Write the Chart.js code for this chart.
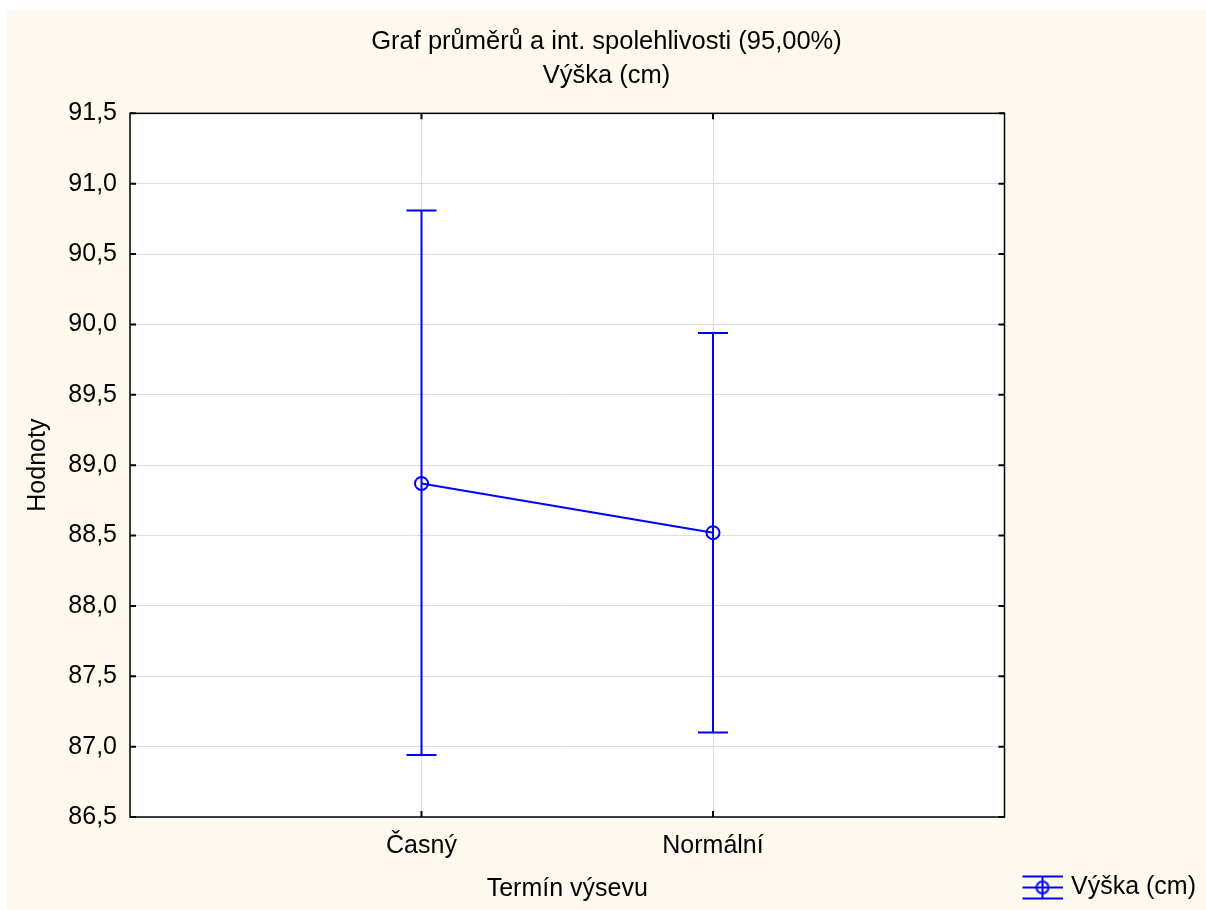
<!DOCTYPE html>
<html>
<head>
<meta charset="utf-8">
<script src="https://cdn.jsdelivr.net/npm/chart.js@4.4.1/dist/chart.umd.min.js"></script>
<style>
	html, body { margin: 0; padding: 0; background: #fff; }
	#wrap { position: absolute; left: 7px; top: 10px; width: 1199px; height: 900px; background: #fef9ee; }
</style>
</head>
<body>
<div id="wrap"><canvas id="myChart"></canvas></div>
<script>
var categories = ['Časný', 'Normální'];
var means = [88.87, 88.52];
var upper = [90.81, 89.94];
var lower = [86.94, 87.10];
var seriesLabel = 'Výška (cm)';
var titleLines = ['Graf průměrů a int. spolehlivosti (95,00%)', 'Výška (cm)'];

var blue = '#0000ff';
var fontFamily = "'Liberation Sans', Arial, sans-serif";

// legend symbol: error bar lying on its side with the mean circle
var legendImg = document.createElement('canvas');
legendImg.width = 52;
legendImg.height = 26;
(function(){
	var c = legendImg.getContext('2d');
	c.strokeStyle = blue;
	c.lineWidth = 2;
	c.beginPath();
	c.moveTo(12, 2); c.lineTo(52, 2);
	c.moveTo(12, 13); c.lineTo(52, 13);
	c.moveTo(12, 24); c.lineTo(52, 24);
	c.moveTo(32, 2); c.lineTo(32, 24);
	c.stroke();
	c.beginPath();
	c.arc(32, 13, 6, 0, Math.PI * 2);
	c.stroke();
})();

var points = categories.map(function(c, i){ return {x: i + 1, y: means[i]}; });

var plotFrame = {
	id: 'plotFrame',
	beforeDraw: function(chart){
		var a = chart.chartArea, ctx = chart.ctx;
		ctx.save();
		ctx.fillStyle = '#fff';
		ctx.fillRect(a.left, a.top, a.right - a.left, a.bottom - a.top);
		ctx.restore();
	},
	beforeDatasetsDraw: function(chart){
		var ctx = chart.ctx, xs = chart.scales.x, ys = chart.scales.y;
		ctx.save();
		ctx.strokeStyle = blue;
		ctx.lineWidth = 2;
		for (var i = 0; i < categories.length; i++) {
			var x = xs.getPixelForValue(i + 1);
			var yt = ys.getPixelForValue(upper[i]);
			var yb = ys.getPixelForValue(lower[i]);
			ctx.beginPath();
			ctx.moveTo(x, yt); ctx.lineTo(x, yb);
			ctx.moveTo(x - 15, yt); ctx.lineTo(x + 15, yt);
			ctx.moveTo(x - 15, yb); ctx.lineTo(x + 15, yb);
			ctx.stroke();
		}
		ctx.restore();
	},
	afterDatasetsDraw: function(chart){
		var a = chart.chartArea, ctx = chart.ctx, xs = chart.scales.x, ys = chart.scales.y;
		ctx.save();
		ctx.strokeStyle = '#000';
		ctx.lineWidth = 1.5;
		ctx.strokeRect(a.left, a.top, a.right - a.left, a.bottom - a.top);
		ctx.lineWidth = 2;
		ctx.beginPath();
		ys.ticks.forEach(function(t){
			var y = ys.getPixelForValue(t.value);
			ctx.moveTo(a.left, y); ctx.lineTo(a.left + 6, y);
			ctx.moveTo(a.right, y); ctx.lineTo(a.right - 6, y);
		});
		for (var i = 0; i < categories.length; i++) {
			var x = xs.getPixelForValue(i + 1);
			ctx.moveTo(x, a.top); ctx.lineTo(x, a.top + 6);
			ctx.moveTo(x, a.bottom); ctx.lineTo(x, a.bottom - 6);
		}
		ctx.stroke();
		ctx.restore();
	}
};

var config = {
	type: 'line',
	data: {
		datasets: [{
			label: seriesLabel,
			data: points,
			fill: false,
			borderColor: blue,
			borderWidth: 2,
			pointRadius: 6.5,
			pointHoverRadius: 6.5,
			pointBackgroundColor: 'rgba(0,0,0,0)',
			pointBorderColor: blue,
			pointBorderWidth: 2
		}]
	},
	options: {
		responsive: true,
		maintainAspectRatio: false,
		animation: false,
		layout: { padding: 0 },
		plugins: {
			tooltip: { enabled: false },
			title: {
				display: true,
				text: titleLines,
				color: '#000',
				font: { family: fontFamily, size: 25.5, weight: 'normal', lineHeight: 1.34 },
				padding: { top: 15, bottom: 20 }
			},
			legend: {
				position: 'right',
				align: 'end',
				labels: {
					color: '#000',
					font: { family: fontFamily, size: 25 },
					usePointStyle: true,
					pointStyleWidth: 44,
					padding: 10,
					generateLabels: function(chart){
						return [{ text: seriesLabel, pointStyle: legendImg, fontColor: '#000', datasetIndex: 0 }];
					}
				}
			}
		},
		scales: {
			x: {
				type: 'linear',
				min: 0,
				max: 3,
				afterFit: function(s){ s.height = 93; },
				ticks: {
					stepSize: 1,
					color: '#000',
					padding: 14,
					font: { family: fontFamily, size: 25 },
					callback: function(v){ return categories[v - 1] || ''; }
				},
				grid: { color: '#dcdcdc', lineWidth: 1, drawTicks: false },
				border: { display: false },
				title: {
					display: true,
					text: 'Termín výsevu',
					color: '#000',
					font: { family: fontFamily, size: 25 },
					padding: { top: 11, bottom: 6 }
				}
			},
			y: {
				min: 86.5,
				max: 91.5,
				afterFit: function(s){ s.width = 123; },
				ticks: {
					stepSize: 0.5,
					color: '#000',
					padding: 13,
					font: { family: fontFamily, size: 25 },
					callback: function(v){ return v.toFixed(1).replace('.', ','); }
				},
				grid: { color: '#dcdcdc', lineWidth: 1, drawTicks: false },
				border: { display: false },
				title: {
					display: true,
					text: 'Hodnoty',
					color: '#000',
					font: { family: fontFamily, size: 25 },
					padding: { top: 16, bottom: 10 }
				}
			}
		}
	},
	plugins: [plotFrame]
};

var ctx = document.getElementById('myChart').getContext('2d');
window.myLine = new Chart(ctx, config);
</script>
</body>
</html>
